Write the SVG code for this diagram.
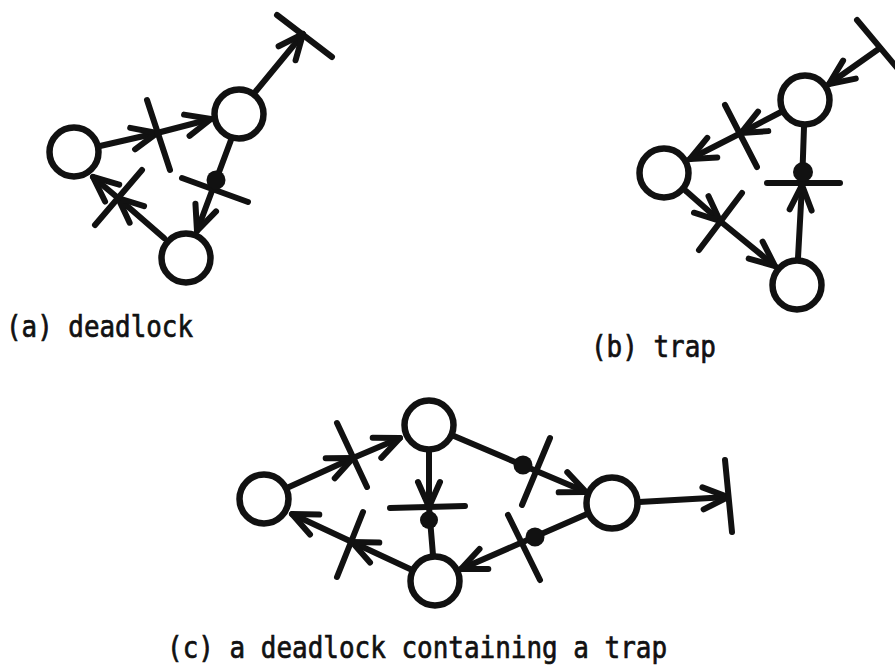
<svg xmlns="http://www.w3.org/2000/svg" width="895" height="667" viewBox="0 0 895 667">
<style>
.place{fill:none;stroke:#111;stroke-width:6.5}
.bar{stroke:#111;stroke-width:6;stroke-linecap:round}
.arc{stroke:#111;stroke-width:6;stroke-linecap:round;fill:none}
.arr{marker-end:url(#ah)}
.tok{fill:#111}
.lbl{font-family:"DejaVu Sans Mono","Liberation Mono",monospace;font-size:30px;fill:#111;stroke:#111;stroke-width:0.7}
</style>
<defs>
<marker id="ah" markerUnits="userSpaceOnUse" markerWidth="44" markerHeight="36" viewBox="-34 -18 44 36" refX="0" refY="0" orient="auto">
<path d="M-25,-11 L0,0 L-25,11" fill="none" stroke="#111" stroke-width="6" stroke-linecap="round" stroke-linejoin="round"/>
</marker>
</defs>
<rect width="895" height="667" fill="#fff"/>

<g id="connectors">
<!-- (a) -->
<line class="arc arr" x1="100" y1="146" x2="157" y2="133"/>
<line class="arc arr" x1="157" y1="133" x2="211" y2="119"/>
<line class="arc arr" x1="231" y1="140" x2="197" y2="231"/>
<line class="arc arr" x1="164" y1="238" x2="118" y2="198"/>
<line class="arc arr" x1="118" y1="198" x2="93" y2="177"/>
<line class="arc arr" x1="256" y1="91" x2="303" y2="34"/>
<!-- (b) -->
<line class="arc arr" x1="880" y1="48" x2="829" y2="84"/>
<line class="arc arr" x1="781" y1="112" x2="741" y2="133"/>
<line class="arc arr" x1="741" y1="133" x2="690" y2="159"/>
<line class="arc arr" x1="686" y1="191" x2="720" y2="221"/>
<line class="arc arr" x1="720" y1="221" x2="775" y2="266"/>
<line class="arc arr" x1="798" y1="258" x2="802" y2="185"/>
<line class="arc" x1="802" y1="185" x2="804" y2="127"/>
<!-- (c) -->
<line class="arc arr" x1="289" y1="487" x2="353" y2="458"/>
<line class="arc arr" x1="353" y1="458" x2="400" y2="438"/>
<line class="arc arr" x1="429" y1="452" x2="429" y2="507"/>
<line class="arc" x1="429" y1="507" x2="433" y2="555"/>
<line class="arc arr" x1="410" y1="569" x2="352" y2="542"/>
<line class="arc arr" x1="352" y1="542" x2="292" y2="514"/>
<line class="arc arr" x1="454" y1="436" x2="586" y2="492"/>
<line class="arc arr" x1="587" y1="514" x2="461" y2="569"/>
<line class="arc arr" x1="639" y1="502" x2="728" y2="497"/>
</g>

<!-- (a) deadlock -->
<g id="a_p1"><circle class="place" cx="74" cy="152" r="24.5"/></g>
<g id="a_p2"><circle class="place" cx="239" cy="114" r="24.5"/></g>
<g id="a_p3"><circle class="place" cx="186" cy="258" r="24.5"/></g>
<g id="a_t1"><line class="bar" x1="147" y1="100" x2="170" y2="170"/></g>
<g id="a_t2"><line class="bar" x1="182" y1="178" x2="248" y2="202"/><circle class="tok" cx="216" cy="180" r="9.5"/></g>
<g id="a_t3"><line class="bar" x1="95" y1="225" x2="142" y2="170"/></g>
<g id="a_t4"><line class="bar" x1="277" y1="15" x2="332" y2="57"/></g>

<!-- (b) trap -->
<g id="b_p1"><circle class="place" cx="805" cy="100" r="24.5"/></g>
<g id="b_p2"><circle class="place" cx="664" cy="173" r="24.5"/></g>
<g id="b_p3"><circle class="place" cx="797" cy="285" r="24.5"/></g>
<g id="b_t0"><line class="bar" x1="857" y1="20" x2="898" y2="69"/></g>
<g id="b_t1"><line class="bar" x1="725" y1="105" x2="757" y2="167"/></g>
<g id="b_t2"><line class="bar" x1="742" y1="193" x2="699" y2="250"/></g>
<g id="b_t3"><line class="bar" x1="767" y1="183" x2="840" y2="183"/><circle class="tok" cx="803" cy="172" r="10"/></g>

<!-- (c) deadlock containing a trap -->
<g id="c_p1"><circle class="place" cx="264" cy="499" r="24.5"/></g>
<g id="c_p2"><circle class="place" cx="429" cy="425" r="24.5"/></g>
<g id="c_p3"><circle class="place" cx="435" cy="581" r="24.5"/></g>
<g id="c_p4"><circle class="place" cx="612" cy="503" r="25.5"/></g>
<g id="c_t1"><line class="bar" x1="337" y1="423" x2="367" y2="487"/></g>
<g id="c_t2"><line class="bar" x1="390" y1="508" x2="465" y2="506"/><circle class="tok" cx="429" cy="520" r="9"/></g>
<g id="c_t3"><line class="bar" x1="363" y1="512" x2="337" y2="577"/></g>
<g id="c_t4"><line class="bar" x1="550" y1="438" x2="522" y2="505"/><circle class="tok" cx="523" cy="465" r="9.5"/></g>
<g id="c_t5"><line class="bar" x1="508" y1="515" x2="540" y2="580"/><circle class="tok" cx="535" cy="537" r="9.5"/></g>
<g id="c_t6"><line class="bar" x1="725" y1="460" x2="732" y2="532"/></g>

<g id="labels">
<text class="lbl" x="6" y="337" textLength="187" lengthAdjust="spacingAndGlyphs">(a) deadlock</text>
<text class="lbl" x="591" y="357" textLength="125" lengthAdjust="spacingAndGlyphs">(b) trap</text>
<text class="lbl" x="167" y="658" textLength="500" lengthAdjust="spacingAndGlyphs">(c) a deadlock containing a trap</text>
</g>
</svg>
